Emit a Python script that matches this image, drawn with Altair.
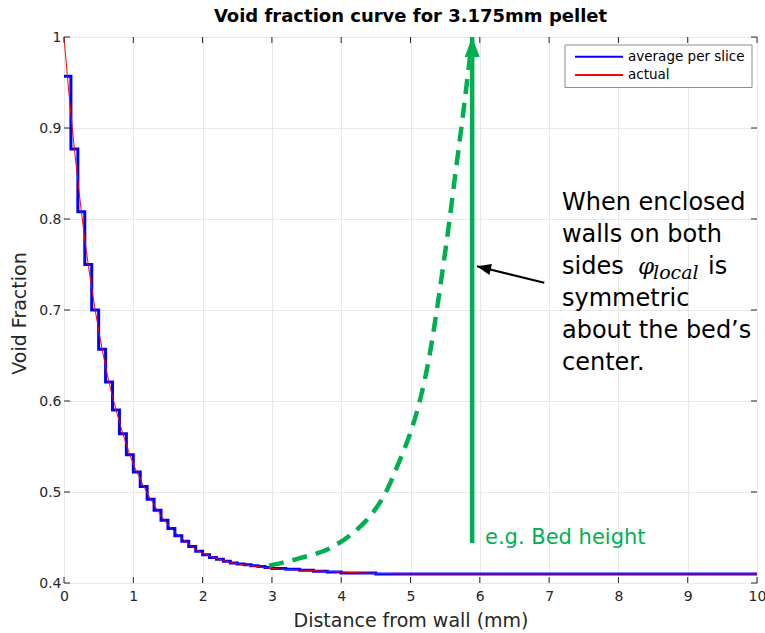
import altair as alt
import pandas as pd

# ---------------- data ----------------
# slice-averaged void fraction: slice start (mm) and value
slice_x = [0.0, 0.1, 0.2, 0.3, 0.4, 0.5, 0.6, 0.7, 0.8, 0.9,
           1.0, 1.1, 1.2, 1.3, 1.4, 1.5, 1.6, 1.7, 1.8, 1.9,
           2.0, 2.1, 2.2, 2.3, 2.4, 2.5, 2.6, 2.7, 2.8, 2.9,
           3.0, 3.2, 3.4, 3.6, 3.8, 4.0, 4.5, 5.0, 6.0, 7.0,
           8.0, 9.0, 10.0]
slice_v = [0.957, 0.877, 0.808, 0.750, 0.700, 0.657, 0.621, 0.590, 0.564, 0.541,
           0.522, 0.506, 0.492, 0.480, 0.469, 0.460, 0.452, 0.446, 0.440, 0.435,
           0.431, 0.428, 0.426, 0.424, 0.422, 0.421, 0.420, 0.419, 0.418, 0.417,
           0.416, 0.415, 0.414, 0.413, 0.412, 0.411, 0.410, 0.410, 0.410, 0.410,
           0.410, 0.410, 0.410]

# actual (continuous) void fraction
actual_x = [0.0, 0.1, 0.2, 0.3, 0.4, 0.5, 0.6, 0.7, 0.8, 0.9,
            1.0, 1.1, 1.2, 1.3, 1.4, 1.5, 1.6, 1.7, 1.8, 1.9,
            2.0, 2.2, 2.4, 2.6, 2.8, 3.0, 3.5, 4.0, 5.0, 6.0,
            8.0, 10.0]
actual_v = [1.000, 0.915, 0.842, 0.778, 0.724, 0.678, 0.638, 0.605, 0.577, 0.552,
            0.531, 0.514, 0.499, 0.486, 0.474, 0.464, 0.456, 0.449, 0.443, 0.437,
            0.433, 0.427, 0.423, 0.420, 0.418, 0.416, 0.414, 0.412, 0.410, 0.410,
            0.410, 0.410]

# mirrored curve (green dashed sketch)
mirror_x = [2.96, 3.39, 3.83, 4.12, 4.40, 4.64, 4.84, 5.02, 5.15, 5.27,
            5.37, 5.46, 5.56, 5.65, 5.75, 5.83, 5.87]
mirror_v = [0.419, 0.427, 0.438, 0.452, 0.472, 0.499, 0.534, 0.570, 0.605, 0.648,
            0.695, 0.742, 0.797, 0.851, 0.910, 0.960, 0.985]

x_ticks = [0, 1, 2, 3, 4, 5, 6, 7, 8, 9, 10]
y_ticks = [0.4, 0.5, 0.6, 0.7, 0.8, 0.9, 1.0]

series_names = ["average per slice", "actual"]
series_colors = ["#0000ff", "#ff0000"]

# annotations (data coordinates)
bed_x = [5.89, 5.89]
bed_v = [0.444, 1.0]
pointer_x = [6.93, 5.96]
pointer_v = [0.730, 0.748]
bed_label = ["e.g. Bed height"]
bed_label_x = [6.075]
bed_label_v = [0.443]

note_lines = ["When enclosed", "walls on both", "sides", "symmetric",
              "about the bed\u2019s", "center."]
note_x = [7.186, 7.186, 7.186, 7.186, 7.186, 7.186]
note_v = [0.810, 0.775, 0.740, 0.704, 0.669, 0.634]
phi_text = ["\u03c6"]
phi_x = [8.283]
phi_v = [0.740]
sub_text = ["local"]
sub_x = [8.50]
sub_v = [0.734]
is_text = ["is"]
is_x = [9.293]
is_v = [0.740]

title_text = ["Void fraction curve for 3.175mm pellet"]
x_title = "Distance from wall (mm)"
y_title = "Void Fraction"

# ---------------- chart ----------------
W, H = 693, 546
GREEN = "#00b050"
FONT = "DejaVu Sans"
AXC = "#262626"

xs = alt.Scale(domain=[0, 10], nice=False, zero=False)
ys = alt.Scale(domain=[0.4, 1.0], nice=False, zero=False)

x_axis = alt.Axis(values=x_ticks, format="d", title=x_title, grid=True,
                  gridColor="#e8e8e8", ticks=False, tickSize=0, domain=False,
                  labelFont=FONT, labelFontSize=14, labelColor=AXC, labelPadding=6,
                  labelFlush=False, labelOverlap=False,
                  titleFont=FONT, titleFontSize=19, titleFontWeight="normal",
                  titleColor=AXC, titleX=W / 2, titleY=43, titleAlign="center",
                  titleBaseline="alphabetic")
y_axis = alt.Axis(values=y_ticks, format="~g", title=y_title, grid=True,
                  gridColor="#e8e8e8", ticks=False, tickSize=0, domain=False,
                  labelFont=FONT, labelFontSize=14, labelColor=AXC, labelPadding=3,
                  labelOverlap=False,
                  titleFont=FONT, titleFontSize=19, titleFontWeight="normal",
                  titleColor=AXC, titleX=-39, titleY=276, titleAlign="center",
                  titleBaseline="alphabetic")

color_scale = alt.Scale(domain=series_names, range=series_colors)

avg_df = pd.DataFrame({"x": slice_x, "y": slice_v, "series": series_names[0]})
act_df = pd.DataFrame({"x": actual_x, "y": actual_v, "series": series_names[1]})

avg = alt.Chart(avg_df).mark_line(interpolate="step-after", strokeWidth=3).encode(
    x=alt.X("x:Q", scale=xs, axis=x_axis),
    y=alt.Y("y:Q", scale=ys, axis=y_axis),
    color=alt.Color("series:N", scale=color_scale, legend=None),
)
act = alt.Chart(act_df).mark_line(interpolate="monotone", strokeWidth=1).encode(
    x="x:Q", y="y:Q",
    color=alt.Color("series:N", scale=color_scale, legend=None),
)

mirror = alt.Chart(pd.DataFrame({"x": mirror_x, "y": mirror_v})).mark_line(
    interpolate="monotone", color=GREEN, strokeWidth=4.5, strokeDash=[15, 9]
).encode(x="x:Q", y="y:Q")

bed_df = pd.DataFrame({"x": bed_x, "y": bed_v})
bed_shaft = alt.Chart(bed_df).mark_line(color=GREEN, strokeWidth=4.5).encode(x="x:Q", y="y:Q")
bed_head = alt.Chart(pd.DataFrame({"x": [bed_x[-1]], "y": [bed_v[-1]]})).mark_point(
    shape="M0,-1L0.75,1L-0.75,1Z", size=400, filled=True, color=GREEN, opacity=1, yOffset=10
).encode(x="x:Q", y="y:Q")

ptr_df = pd.DataFrame({"x": pointer_x, "y": pointer_v})
ptr_line = alt.Chart(ptr_df).mark_line(color="black", strokeWidth=2).encode(x="x:Q", y="y:Q")
ptr_head = alt.Chart(pd.DataFrame({"x": [pointer_x[-1]], "y": [pointer_v[-1]]})).mark_point(
    shape="M0,-1L0.8,1L-0.8,1Z", size=196, filled=True, color="black", opacity=1,
    angle=283, xOffset=6.8, yOffset=1.6
).encode(x="x:Q", y="y:Q")

bed_txt = alt.Chart(pd.DataFrame({"x": bed_label_x, "y": bed_label_v, "t": bed_label})).mark_text(
    align="left", baseline="alphabetic", font=FONT, fontSize=21, color=GREEN
).encode(x="x:Q", y="y:Q", text="t:N")

notes = alt.Chart(pd.DataFrame({"x": note_x, "y": note_v, "t": note_lines})).mark_text(
    align="left", baseline="alphabetic", font=FONT, fontSize=24, color="black"
).encode(x="x:Q", y="y:Q", text="t:N")
phi = alt.Chart(pd.DataFrame({"x": phi_x, "y": phi_v, "t": phi_text})).mark_text(
    align="left", baseline="alphabetic", font="DejaVu Serif", fontStyle="italic",
    fontSize=23, color="black"
).encode(x="x:Q", y="y:Q", text="t:N")
sub = alt.Chart(pd.DataFrame({"x": sub_x, "y": sub_v, "t": sub_text})).mark_text(
    align="left", baseline="alphabetic", font="DejaVu Serif", fontStyle="italic",
    fontSize=19, color="black"
).encode(x="x:Q", y="y:Q", text="t:N")
is_t = alt.Chart(pd.DataFrame({"x": is_x, "y": is_v, "t": is_text})).mark_text(
    align="left", baseline="alphabetic", font=FONT, fontSize=24, color="black"
).encode(x="x:Q", y="y:Q", text="t:N")

# chart title
title_mark = alt.Chart(pd.DataFrame({"t": title_text})).mark_text(
    align="center", baseline="alphabetic", font=FONT, fontSize=18, fontWeight="bold",
    color="black"
).encode(x=alt.value(W / 2), y=alt.value(-15), text="t:N")

# inward tick marks on all four sides (MATLAB box style)
xt_df = pd.DataFrame({"x": x_ticks})
yt_df = pd.DataFrame({"y": y_ticks})
tick_style = dict(color=AXC, strokeWidth=1)
xt_bot = alt.Chart(xt_df).mark_rule(**tick_style).encode(x="x:Q", y=alt.value(H), y2=alt.value(H - 6))
xt_top = alt.Chart(xt_df).mark_rule(**tick_style).encode(x="x:Q", y=alt.value(0), y2=alt.value(6))
yt_left = alt.Chart(yt_df).mark_rule(**tick_style).encode(y="y:Q", x=alt.value(0), x2=alt.value(6))
yt_right = alt.Chart(yt_df).mark_rule(**tick_style).encode(y="y:Q", x=alt.value(W), x2=alt.value(W - 6))

# legend box
one = pd.DataFrame({"k": [0]})
leg_box = alt.Chart(one).mark_rect(fill="white", stroke="#8c8c8c", strokeWidth=1).encode(
    x=alt.value(501), x2=alt.value(688), y=alt.value(8), y2=alt.value(50.5))
leg_layers = [leg_box]
for i, (name, col) in enumerate(zip(series_names, series_colors)):
    yy = 19.7 + 18.3 * i
    ldf = pd.DataFrame({"t": [name]})
    leg_layers.append(alt.Chart(ldf).mark_rule(color=col, strokeWidth=2).encode(
        x=alt.value(511), x2=alt.value(559), y=alt.value(yy)))
    leg_layers.append(alt.Chart(ldf).mark_text(
        align="left", baseline="middle", font=FONT, fontSize=13.5, color="black").encode(
        x=alt.value(564), y=alt.value(yy), text="t:N"))

chart = alt.layer(
    avg, act, mirror, bed_shaft, bed_head, ptr_line, ptr_head,
    bed_txt, notes, phi, sub, is_t, title_mark,
    xt_bot, xt_top, yt_left, yt_right,
    *leg_layers,
).properties(
    width=W, height=H,
    autosize=alt.AutoSizeParams(type="none"),
    padding={"left": 64, "top": 37, "right": 8, "bottom": 50},
).configure_view(
    stroke=AXC, strokeWidth=1
).configure(background="white")

chart.save("out.html", embed_options={"renderer": "svg", "actions": False})
